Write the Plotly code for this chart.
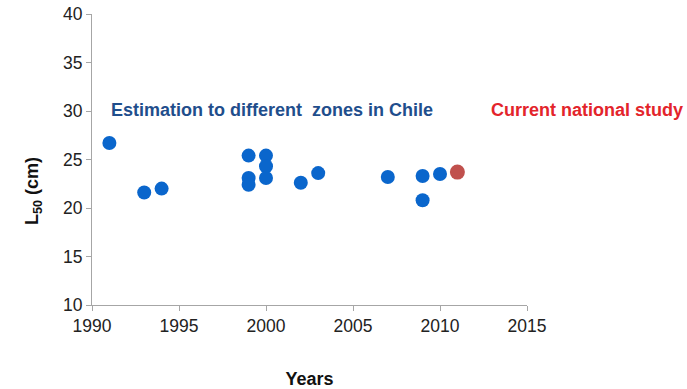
import plotly.graph_objects as go

# Regional estimates of L50 (cm) by year
years = [1991, 1993, 1994, 1999, 1999, 1999, 2000, 2000, 2000, 2002, 2003, 2007, 2009, 2009, 2010]
l50 = [26.7, 21.6, 22.0, 25.4, 23.1, 22.4, 25.4, 24.3, 23.1, 22.6, 23.6, 23.2, 23.3, 20.8, 23.5]

# Current national study
current_year = [2011]
current_l50 = [23.7]

x_ticks = [1990, 1995, 2000, 2005, 2010, 2015]
y_ticks = [10, 15, 20, 25, 30, 35, 40]

font_family = 'Liberation Sans, Arial, sans-serif'

fig = go.Figure()

fig.add_trace(go.Scatter(
    x=years, y=l50, mode='markers', name='Regional',
    marker=dict(color='#0A66CC', size=14, line=dict(width=0)),
))

fig.add_trace(go.Scatter(
    x=current_year, y=current_l50, mode='markers', name='National',
    marker=dict(color='#C0504D', size=15, line=dict(width=0)),
))

# in-plot labels
fig.add_annotation(
    x=1991, y=30.1, xref='x', yref='y', xanchor='left', yanchor='middle',
    text='<b>Estimation to different  zones in Chile</b>', showarrow=False,
    font=dict(size=18, color='#1F4E8C', family=font_family),
)
fig.add_annotation(
    x=2012.8, y=30.1, xref='x', yref='y', xanchor='left', yanchor='middle',
    text='<b>Current national study</b>', showarrow=False,
    font=dict(size=18, color='#E3242B', family=font_family),
)

# y-axis title
fig.add_annotation(
    x=0, y=21.7, xref='paper', yref='y', xshift=-72,
    text='<b>L<sub>50</sub> (cm)</b>', textangle=-90, showarrow=False,
    font=dict(size=18, color='#111111', family=font_family),
)

fig.update_layout(
    width=687, height=389,
    margin=dict(l=92, r=160, t=14, b=84),
    plot_bgcolor='white', paper_bgcolor='white',
    showlegend=False,
    font=dict(family=font_family, size=17.5, color='#222222'),
)

fig.update_xaxes(
    range=[1990, 2015], tickvals=x_ticks, showgrid=False, zeroline=False,
    showline=True, linecolor='#A6A6A6', linewidth=1, automargin=False,
    ticks='outside', ticklen=5, tickcolor='#A6A6A6',
    tickfont=dict(size=17.5),
    title=dict(text='<b>Years</b>', font=dict(size=18, color='#111111'), standoff=38),
)
fig.update_yaxes(
    range=[10, 40], tickvals=y_ticks, showgrid=False, zeroline=False,
    showline=True, linecolor='#A6A6A6', linewidth=1, automargin=False,
    ticks='outside', ticklen=5, tickcolor='#A6A6A6',
    tickfont=dict(size=17.5),
)

# drop the default 8px page margin so the figure sits at the window corner
fig.write_html('out.html', config={'displayModeBar': False},
               post_script="document.body.style.margin='0';")
